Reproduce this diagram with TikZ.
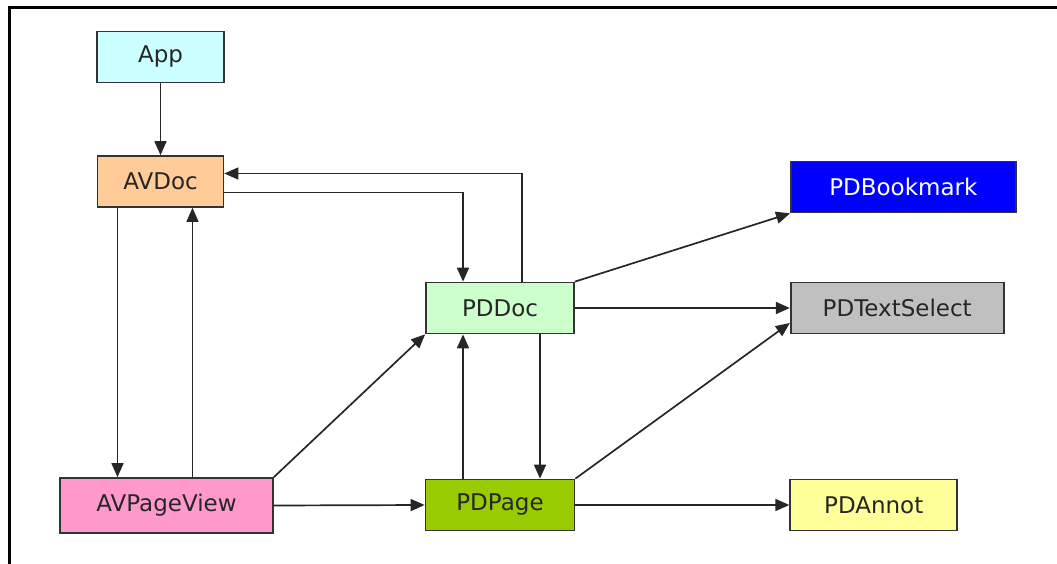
\documentclass[tikz,border=0pt]{standalone}
\usepackage{fontspec}
\setmainfont{DejaVu Sans}
\usepackage{tikz}
\usetikzlibrary{arrows.meta,positioning}
\definecolor{objcyan}{RGB}{204,255,255}
\definecolor{objorange}{RGB}{255,204,153}
\definecolor{objpink}{RGB}{255,153,204}
\definecolor{objmint}{RGB}{204,255,204}
\definecolor{objolive}{RGB}{153,204,0}
\definecolor{objblue}{RGB}{0,0,255}
\definecolor{objgray}{RGB}{192,192,192}
\definecolor{objyellow}{RGB}{255,255,153}
\tikzstyle{arrow} = [line width=1.7pt,->,>={Triangle[length=14pt,width=12pt]},color=black!85]
\tikzstyle{object} = [rectangle, minimum height=51pt, inner sep=0pt, text centered, draw=black!80, line width=1.7pt, text=black!85, font=\fontsize{23}{26}\selectfont]

\begin{document}
\begin{tikzpicture}[x=1pt, y=-1pt]
\useasboundingbox (0,0) rectangle (1057,564);
% Frame
\draw[line width=3pt] (9,564) -- (9,7.5) -- (1057,7.5);

% Viewer layer
\node (app) [object, fill=objcyan, minimum width=127pt] at (160.5,57) {App};
\node (avdoc) [object, fill=objorange, minimum width=126pt, below of=app, node distance=124.5pt] {AVDoc};
\node (avpv) [object, fill=objpink, minimum width=213pt, minimum height=55pt] at (166.5,505.5) {AVPageView};

% Document layer
\node (pddoc) [object, fill=objmint, minimum width=148pt] at (500,308) {PDDoc};
\node (pdpage) [object, fill=objolive, minimum width=149pt, below of=pddoc, node distance=197pt] {PDPage};

% Leaf objects
\node (pdbook) [object, fill=objblue, text=white, minimum width=225pt, anchor=west] at (790,187) {PDBookmark};
\node (pdtext) [object, fill=objgray, minimum width=213pt, right=215pt of pddoc] {PDTextSelect};
\node (pdannot) [object, fill=objyellow, minimum width=167pt, right=214pt of pdpage] {PDAnnot};

% Links
\draw[arrow] (app) -- (avdoc);
\draw[arrow] ([xshift=-43pt]avdoc.south) -- ([xshift=-43pt]avdoc.south |- avpv.north);
\draw[arrow] ([xshift=32pt]avdoc.south |- avpv.north) -- ([xshift=32pt]avdoc.south);
\draw[arrow] ([yshift=-11pt]avdoc.east) -| ([xshift=-37pt]pddoc.north);
\draw[arrow] ([xshift=22pt]pddoc.north) |- ([yshift=8pt]avdoc.east);
\draw[arrow] (pddoc.north east) -- (pdbook.south west);
\draw[arrow] (pddoc) -- (pdtext);
\draw[arrow] (pdpage.north east) -- ([yshift=-15pt]pdtext.west);
\draw[arrow] (avpv.north east) -- (pddoc.south west);
\draw[arrow] ([xshift=-37pt]pdpage.north) -- ([xshift=-37pt]pdpage.north |- pddoc.south);
\draw[arrow] ([xshift=40pt]pddoc.south) -- ([xshift=40pt]pddoc.south |- pdpage.north);
\draw[arrow] (avpv.east) -- (pdpage.west);
\draw[arrow] (pdpage) -- (pdannot);
\end{tikzpicture}
\end{document}
